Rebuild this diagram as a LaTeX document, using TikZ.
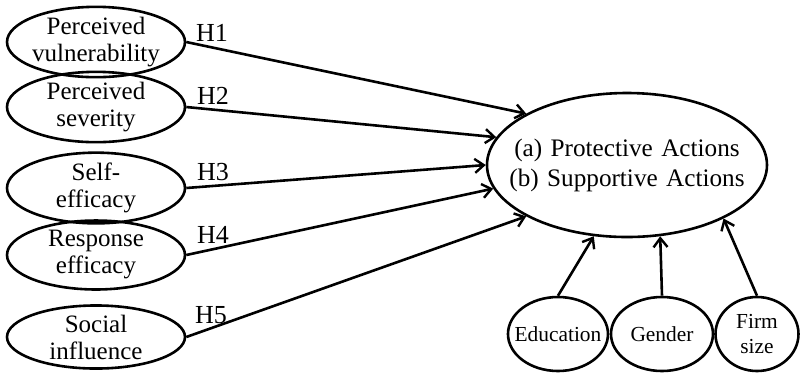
\documentclass[tikz,border=0pt]{standalone}
\usepackage{fontspec}
\setmainfont{Liberation Serif}
\usetikzlibrary{shapes.geometric, arrows.meta}
\tikzset{
    construct/.style={draw, ellipse, line width=1.3pt, inner xsep=-4pt, inner ysep=0pt,
        align=center, minimum width=89pt, font=\fontsize{12.5}{13.5}\selectfont},
    control/.style={draw, ellipse, line width=1.3pt, inner xsep=-8pt, inner ysep=0pt,
        align=center, minimum height=37pt, font=\fontsize{10.7}{12.5}\selectfont},
    hyp/.style={font=\fontsize{13}{15}\selectfont, inner sep=0pt},
    path/.style={line width=1.3pt, -{Straight Barb[length=4.5pt, width=7pt, line width=1.2pt]}}
}

\begin{document}
\begin{tikzpicture}[x=0.5pt, y=-0.5pt]
    \useasboundingbox (0,0) rectangle (800,372);

    % Left set of constructs
    \node[construct, minimum height=30pt] (PV) at (96,42) {Perceived\\vulnerability};
    \node[construct, minimum height=29.5pt] (PS) at (96,107) {Perceived\\severity};
    \node[construct, minimum height=29pt] (SE) at (96,188) {Self-\\efficacy};
    \node[construct, minimum height=28pt] (RE) at (96,255) {Response\\efficacy};
    \node[construct, minimum height=30pt] (SI) at (96,337) {Social\\influence};

    % Outcome
    \node[draw, ellipse, line width=1.3pt, inner xsep=-12pt, inner ysep=0pt, align=center,
        minimum width=140pt, minimum height=72pt,
        font=\fontsize{12.6}{15}\selectfont] (ACT) at (627,165)
        {\spaceskip=4.2pt (a) Protective Actions\\\spaceskip=4.2pt (b) Supportive Actions};

    % Control variables
    \node[control, minimum width=50pt] (EDU) at (558,334) {Education};
    \node[control, minimum width=51pt] (GEN) at (662,334) {Gender};
    \node[control, minimum width=41.5pt] (FS) at (757,334) {Firm\\size};

    % Draw hypothesised paths
    \draw[path] (PV.east) -- (ACT.153);
    \draw[path] (PS.east) -- (ACT.168);
    \draw[path] (SE.east) -- (ACT.180);
    \draw[path] (RE.east) -- (ACT.190);
    \draw[path] (SI.east) -- (ACT.207);

    % Control paths
    \draw[path] (EDU.north) -- (ACT.245);
    \draw[path] (GEN.north) -- (ACT.295);
    \draw[path] (FS.north) -- (ACT.331);

    % Add hypothesis labels
    \node[hyp] (H1) at (212,33) {H1};
    \node[hyp] (H2) at (213,96) {H2};
    \node[hyp] (H3) at (213,172) {H3};
    \node[hyp] (H4) at (213,235) {H4};
    \node[hyp] (H5) at (211,315) {H5};
\end{tikzpicture}
\end{document}
